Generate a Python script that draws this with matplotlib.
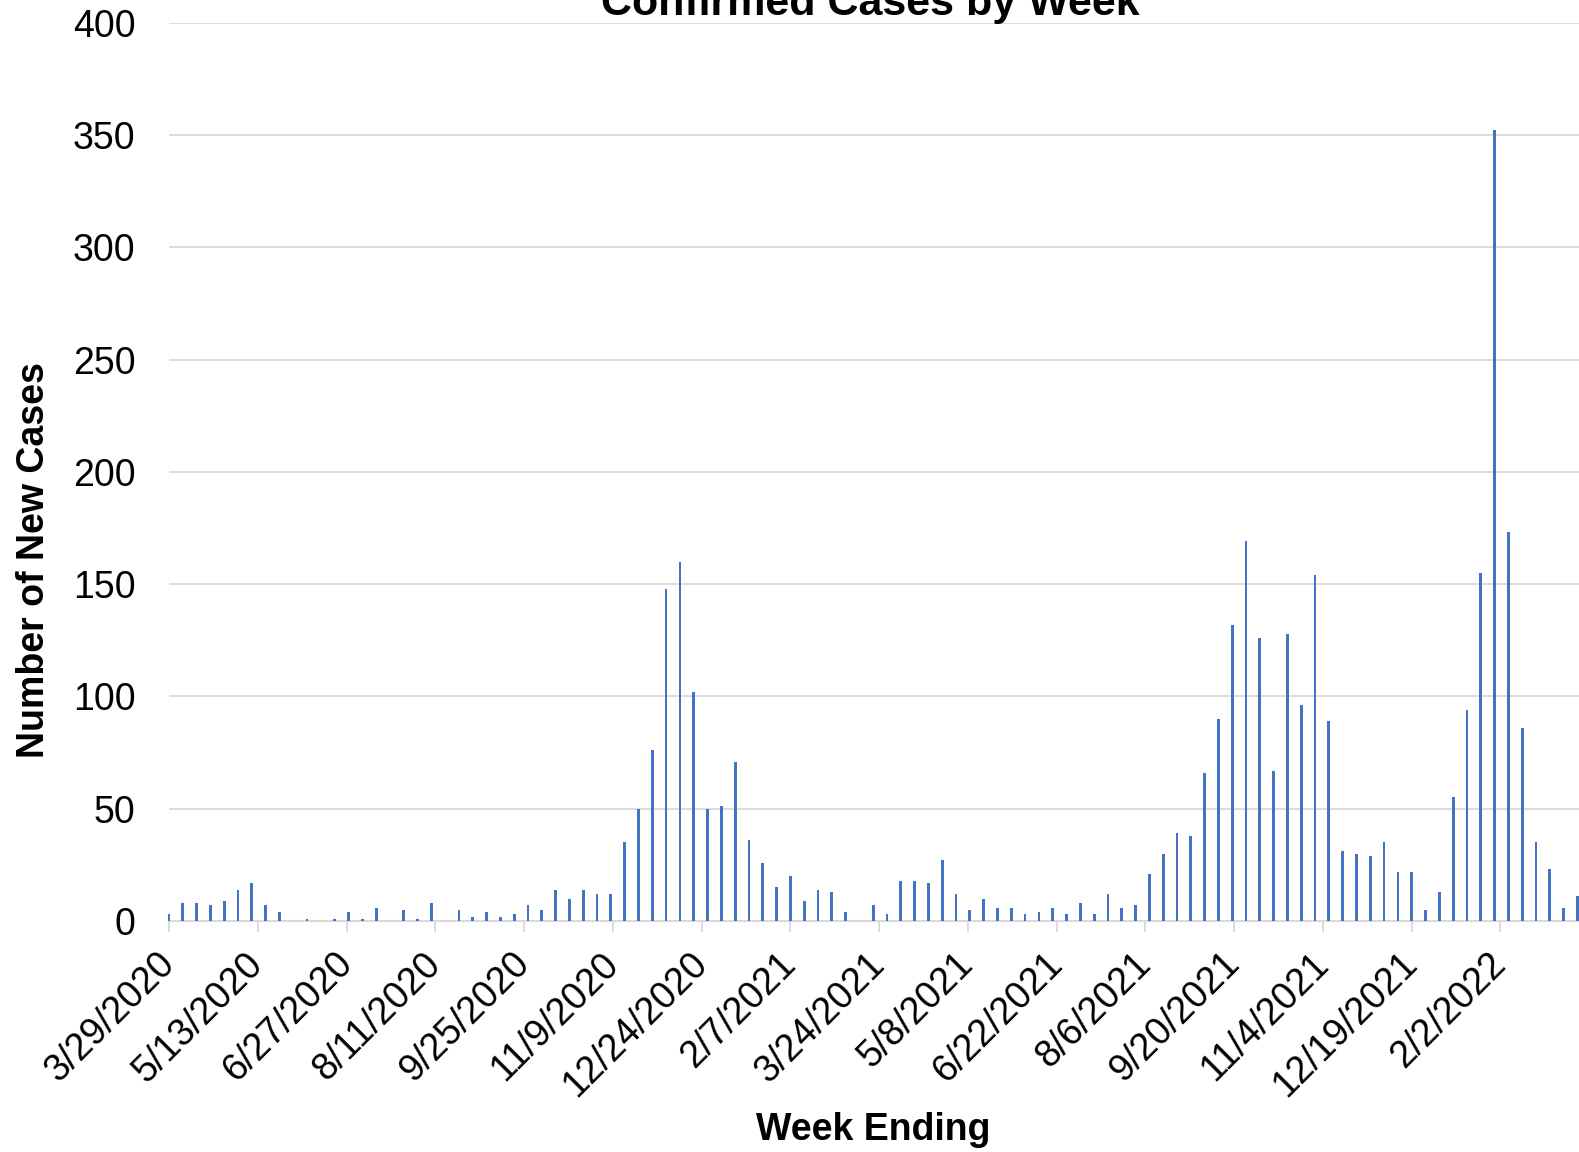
import matplotlib.pyplot as plt
import matplotlib.transforms as mtransforms
import pandas as pd

plt.rcParams["font.family"] = ["Liberation Sans", "DejaVu Sans"]

# weekly bars, week ending dates
weeks = pd.date_range("2020-03-29", periods=103, freq="7D")
cases = [3, 8, 8, 7, 9, 14, 17, 7, 4, 0,
         1, 0, 1, 4, 1, 6, 0, 5, 1, 8,
         0, 5, 2, 4, 2, 3, 7, 5, 14, 10,
         14, 12, 12, 35, 50, 76, 148, 160, 102, 50,
         51, 71, 36, 26, 15, 20, 9, 14, 13, 4,
         0, 7, 3, 18, 18, 17, 27, 12, 5, 10,
         6, 6, 3, 4, 6, 3, 8, 3, 12, 6,
         7, 21, 30, 39, 38, 66, 90, 132, 169, 126,
         67, 128, 96, 154, 89, 31, 30, 29, 35, 22,
         22, 5, 13, 55, 94, 155, 352, 173, 86, 35,
         23, 6, 11]

tick_dates = pd.date_range("2020-03-29", periods=16, freq="45D")
tick_labels = [f"{d.month}/{d.day}/{d.year}" for d in tick_dates]

W, H = 1579, 1152
grid_col = "#D9D9D9"

fig = plt.figure(figsize=(W / 100, H / 100), dpi=100)
ax = fig.add_axes([169 / W, 1 - 921 / H, 1 - 169 / W, (921 - 22.7) / H])

ax.bar(weeks, cases, width=1.4, color="#4472C4", clip_on=False, zorder=3)
ax.set_xlim(weeks[0], weeks[0] + pd.Timedelta(days=714.8))
ax.set_ylim(0, 400)
ax.set_yticks(range(0, 401, 50))
ax.set_xticks(tick_dates)
ax.set_xticklabels(tick_labels, rotation=45, ha="right", va="center",
                   rotation_mode="anchor")
shift = mtransforms.ScaledTranslation(2 / 100, 0, fig.dpi_scale_trans)
for lbl in ax.get_xticklabels():
    lbl.set_transform(lbl.get_transform() + shift)

ax.yaxis.grid(True, color=grid_col, lw=1.3)
ax.set_axisbelow(True)
for s in ["top", "right", "left"]:
    ax.spines[s].set_visible(False)
ax.spines["bottom"].set_color(grid_col)
ax.spines["bottom"].set_linewidth(1.5)

ax.tick_params(axis="y", length=0, pad=24, labelsize=27)
ax.tick_params(axis="x", length=8, width=1.3, color=grid_col, pad=19, labelsize=27)

fig.text(870.5 / W, 1 - 15 / H, "Confirmed Cases by Week", ha="center",
         va="baseline", fontsize=31, fontweight="bold")
fig.text(873 / W, 1 - 1140 / H, "Week Ending", ha="center", va="baseline",
         fontsize=27, fontweight="bold")
fig.text(34 / W, 1 - 560 / H, "Number of New Cases", ha="center", va="center",
         rotation=90, fontsize=27, fontweight="bold")

fig.savefig("out.png", dpi=100)
